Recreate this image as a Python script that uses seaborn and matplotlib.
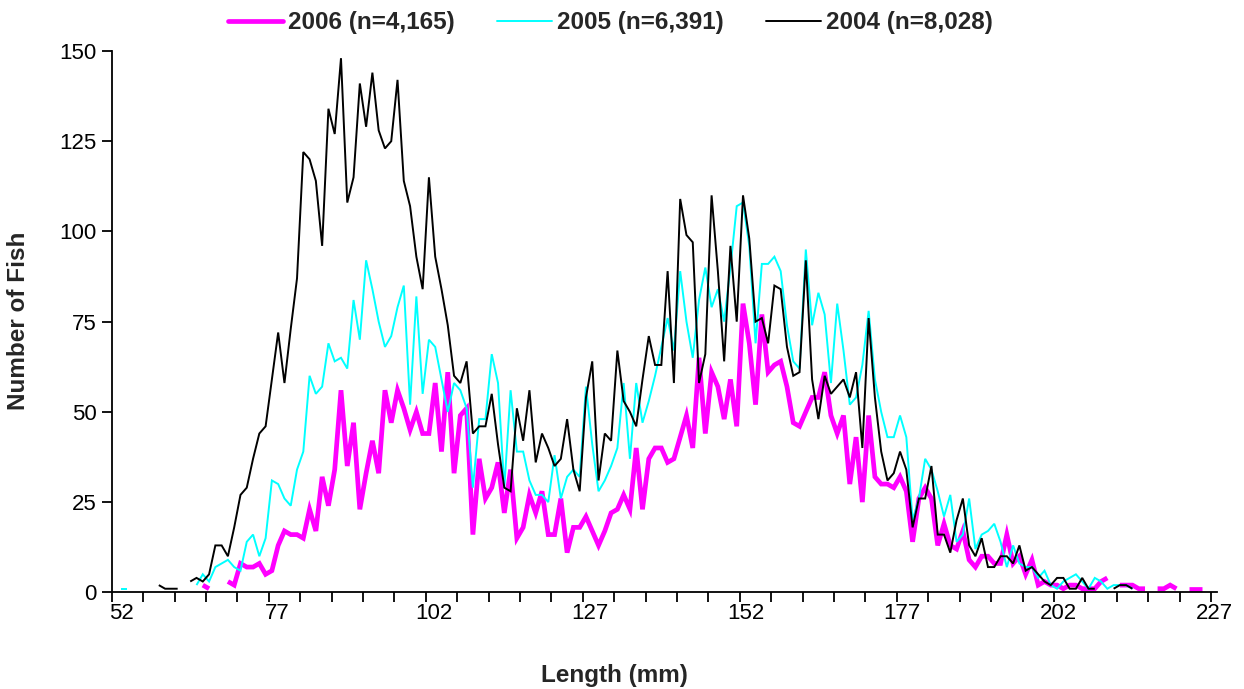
import numpy as np
import pandas as pd
import matplotlib
matplotlib.use("Agg")
import matplotlib.pyplot as plt
from matplotlib.lines import Line2D
import seaborn as sns

# Length classes (mm) on the category axis, one count per 1-mm class
first_class, last_class = 51, 226

# 2006 (n=4,165), starts at 65 mm; NaN = no fish in that class
start_2006 = 65
counts_2006 = [
    2, 1, np.nan, np.nan, 3, 2, 8, 7, 7, 8, 5, 6, 13, 17, 16, 16, 15, 23, 17, 32,
    24, 34, 56, 35, 47, 23, 33, 42, 33, 56, 47, 56, 51, 45, 50, 44, 44, 58, 39, 61,
    33, 49, 51, 16, 37, 26, 29, 36, 22, 34, 15, 18, 27, 22, 28, 16, 16, 26, 11, 18,
    18, 21, 17, 13, 17, 22, 23, 27, 23, 40, 23, 37, 40, 40, 36, 37, 43, 49, 40, 65,
    44, 61, 57, 48, 59, 46, 80, 69, 52, 77, 61, 63, 64, 57, 47, 46, 50, 54, 54, 61,
    49, 44, 49, 30, 43, 25, 49, 32, 30, 30, 29, 32, 28, 14, 26, 29, 26, 13, 19, 13,
    12, 17, 9, 7, 10, 10, 8, 8, 16, 8, 10, 5, 9, 2, 3, 2, 2, 1, 2, 2,
    1, 1, 1, 3, 4, np.nan, 2, 2, 2, 1, 1, np.nan, 1, 1, 2, 1, np.nan, 1, 1, 1,
]

# 2005 (n=6,391), starts at 52 mm
start_2005 = 52
counts_2005 = [
    1, 1, np.nan, np.nan, np.nan, np.nan, np.nan, np.nan, np.nan, np.nan, np.nan, np.nan,
    2, 5, 3, 7, 8, 9, 7, 6, 14, 16, 10, 15, 31, 30, 26, 24, 34, 39,
    60, 55, 57, 69, 64, 65, 62, 81, 70, 92, 84, 75, 68, 71, 79, 85, 52, 82, 55, 70,
    68, 59, 50, 58, 56, 51, 29, 48, 48, 66, 58, 29, 56, 39, 39, 31, 27, 27, 25, 38,
    26, 32, 34, 32, 57, 41, 28, 31, 35, 40, 58, 37, 58, 47, 53, 60, 68, 76, 67, 89,
    75, 65, 81, 90, 79, 84, 75, 90, 107, 108, 96, 69, 91, 91, 93, 89, 74, 64, 62, 95,
    74, 83, 77, 58, 80, 67, 52, 54, 63, 78, 59, 50, 43, 43, 49, 43, 20, 26, 37, 34,
    28, 21, 27, 14, 16, 26, 12, 16, 17, 19, 14, 7, 13, 8, 7, 7, 4, 6, 2, 1,
    3, 4, 5, 3, 1, 4, 3, 1, 2, 2, 2, 1,
]

# 2004 (n=8,028), starts at 58 mm
start_2004 = 58
counts_2004 = [
    2, 1, 1, 1, np.nan, 3, 4, 3, 5, 13, 13, 10, 18, 27, 29, 37, 44, 46, 59, 72,
    58, 73, 87, 122, 120, 114, 96, 134, 127, 148, 108, 115, 141, 129, 144, 128, 123, 125, 142, 114,
    107, 93, 84, 115, 93, 84, 74, 60, 58, 64, 44, 46, 46, 55, 41, 29, 28, 51, 42, 56,
    36, 44, 40, 35, 37, 48, 34, 28, 54, 64, 31, 44, 42, 67, 53, 50, 46, 59, 71, 63,
    63, 89, 58, 109, 99, 97, 58, 66, 110, 89, 64, 96, 75, 110, 98, 75, 76, 69, 85, 84,
    68, 60, 61, 92, 59, 48, 60, 55, 57, 59, 54, 61, 40, 76, 54, 39, 31, 33, 39, 34,
    18, 26, 26, 35, 16, 16, 11, 20, 26, 13, 10, 15, 7, 7, 10, 10, 8, 13, 6, 7,
    5, 3, 2, 4, 4, 1, 1, 4, 1, 1, np.nan, np.nan, 1, 2, 2, 1,
]

series_labels = ["2006 (n=4,165)", "2005 (n=6,391)", "2004 (n=8,028)"]
series_colors = ["#FF00FF", "#00FFFF", "#000000"]
series_widths = [3.4, 1.4, 1.4]

x_tick_labels = ["52", "77", "102", "127", "152", "177", "202", "227"]
y_ticks = [0, 25, 50, 75, 100, 125, 150]


def to_frame(start, counts):
    vals = np.asarray(counts, dtype=float)
    df = pd.DataFrame({"length": np.arange(start, start + len(vals)), "count": vals})
    # contiguous runs of recorded classes become separate line pieces
    df["segment"] = df["count"].isna().cumsum()
    return df.dropna()


frames = [
    to_frame(start_2006, counts_2006),
    to_frame(start_2005, counts_2005),
    to_frame(start_2004, counts_2004),
]

sns.set_theme(style="white")
plt.rcParams["font.family"] = ["Liberation Sans", "DejaVu Sans"]

fig = plt.figure(figsize=(12.44, 6.89), dpi=100)
ax = fig.add_axes([0.0898, 0.1403, 0.9785 - 0.0898, 0.926 - 0.1403])

for df, color, lw in zip(frames, series_colors, series_widths):
    sns.lineplot(
        data=df, x="length", y="count", units="segment", estimator=None,
        color=color, linewidth=lw, ax=ax, legend=False,
        solid_joinstyle="miter", solid_capstyle="butt",
    )

lo, hi = first_class - 0.5, last_class + 0.5
ax.set_xlim(lo, hi)
ax.set_ylim(0, 150)

# tick marks on class boundaries every 5 mm
ax.set_xticks(np.arange(lo, hi, 5))
ax.set_xticklabels([])
# category labels every 25 classes, spread evenly across the axis
n_slots = len(x_tick_labels) * 25 - 23
label_pos = lo + (hi - lo) * (np.arange(len(x_tick_labels)) * 25 + 1.5) / n_slots
ax.set_xticks(label_pos, minor=True)
ax.set_xticklabels(x_tick_labels, minor=True)
ax.tick_params(axis="x", which="major", direction="out", length=7, width=1.3,
               color="black", bottom=True)
ax.tick_params(axis="x", which="minor", length=0, pad=8, labelsize=16,
               labelcolor="black")

ax.set_yticks(y_ticks)
ax.set_yticklabels([str(v) for v in y_ticks])
ax.tick_params(axis="y", direction="out", length=7, width=1.3, color="black",
               left=True, labelsize=16, labelcolor="black", pad=4)

for side in ["top", "right"]:
    ax.spines[side].set_visible(False)
for side in ["left", "bottom"]:
    ax.spines[side].set_color("black")
    ax.spines[side].set_linewidth(1.3)

ax.set_xlabel("")
ax.set_ylabel("")
fig.text(0.494, 0.019, "Length (mm)", ha="center", va="center",
         fontsize=17.5, fontweight="bold")
fig.text(0.0145, 0.535, "Number of Fish", ha="center", va="center",
         rotation=90, fontsize=17.5, fontweight="bold")

handles = [Line2D([0], [0], color=c, lw=w) for c, w in zip(series_colors, series_widths)]
fig.legend(handles, series_labels, loc="upper left", bbox_to_anchor=(216 / 1244, 1.001),
           ncol=3, frameon=False, prop={"weight": "bold", "size": 17.5},
           borderpad=0, handlelength=2.26, handletextpad=0.2, columnspacing=1.75)

fig.savefig("out.png", dpi=100, facecolor="white")
